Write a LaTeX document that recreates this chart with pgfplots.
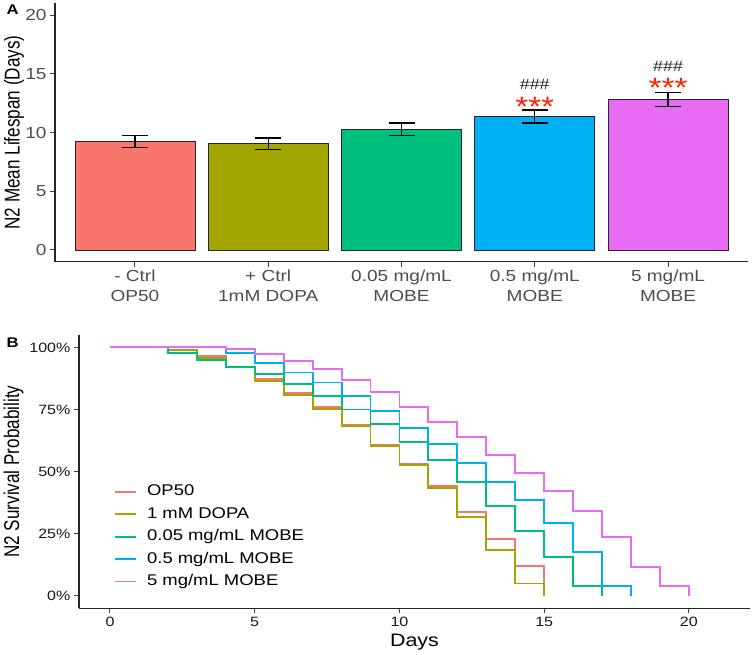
\documentclass[border=0pt]{standalone}
\usepackage{fontspec}
\setmainfont{Liberation Sans}[FakeStretch=1.19]
\newfontfamily\rotfont{Liberation Sans}[FakeStretch=0.8]
\usepackage{pgfplots}
\pgfplotsset{compat=1.18}
\definecolor{cA}{HTML}{F8766D}
\definecolor{cB}{HTML}{A3A500}
\definecolor{cC}{HTML}{00BF7D}
\definecolor{cD}{HTML}{00B0F6}
\definecolor{cE}{HTML}{E76BF3}
\definecolor{tickgray}{HTML}{4D4D4D}
\definecolor{starred}{HTML}{FF2200}
\pgfplotsset{mybar/.style={ybar, bar width=0.9, bar shift=0pt, draw=black!85, line width=0.8pt,
  /pgfplots/error bars/y dir=both, /pgfplots/error bars/y explicit,
  /pgfplots/error bars/error bar style={black, line width=1.3pt},
  /pgfplots/error bars/error mark options={rotate=90, black, line width=1.3pt, mark size=13pt}}}
\begin{document}
\begin{tikzpicture}
\path[use as bounding box] (0pt,0pt) rectangle (754pt,654pt);
\node[anchor=base west, font=\fontsize{14}{16}\selectfont\bfseries] at (3pt,639pt) {A};
\node[anchor=base west, font=\fontsize{14}{16}\selectfont\bfseries] at (3pt,306.7pt) {B};
% ---------------- Panel A ----------------
\begin{axis}[
  at={(55pt,392.3pt)}, anchor=south west, scale only axis,
  width=693pt, height=258.4pt,
  xmin=0.4, xmax=5.6, ymin=-1, ymax=21,
  axis x line=bottom, axis y line=left,
  axis line style={-, black!85, line width=1.1pt},
  tick align=outside, major tick length=5pt,
  tick style={black!75, line width=1pt},
  xtick={1,2,3,4,5},
  xticklabels={{- Ctrl\\OP50},{+ Ctrl\\1mM DOPA},{0.05 mg/mL\\MOBE},{0.5 mg/mL\\MOBE},{5 mg/mL\\MOBE}},
  xticklabel style={align=center, text=tickgray, font=\fontsize{16}{19.3}\selectfont},
  ytick={0,5,10,15,20},
  yticklabel style={text=tickgray, font=\fontsize{16}{19}\selectfont},
  /pgf/number format/assume math mode=true,
  ylabel={\rotfont N2 Mean Lifespan (Days)},
  ylabel style={at={(axis description cs:-0.0592,0.5)}, anchor=center, font=\fontsize{21.4}{24}\selectfont},
  clip=false,
]
\addplot[mybar, fill=cA] coordinates {(1,9.25) +- (0,0.50)};
\addplot[mybar, fill=cB] coordinates {(2,9.05) +- (0,0.48)};
\addplot[mybar, fill=cC] coordinates {(3,10.27) +- (0,0.54)};
\addplot[mybar, fill=cD] coordinates {(4,11.37) +- (0,0.55)};
\addplot[mybar, fill=cE] coordinates {(5,12.82) +- (0,0.61)};
\node[anchor=base, text=starred, font=\fontsize{28}{30}\selectfont] at (axis cs:4,11.40) {***};
\node[anchor=base, text=starred, font=\fontsize{28}{30}\selectfont] at (axis cs:5,12.98) {***};
\node[anchor=base, text=black!85, font=\fontsize{15}{17}\selectfont] at (axis cs:4,13.67) {\#\#\#};
\node[anchor=base, text=black!85, font=\fontsize{15}{17}\selectfont] at (axis cs:5,15.22) {\#\#\#};
\end{axis}
% ---------------- Panel B ----------------
\begin{axis}[
  at={(79pt,45.7pt)}, anchor=south west, scale only axis,
  width=671pt, height=273.3pt,
  xmin=-1.07, xmax=22.11, ymin=-0.05, ymax=1.05,
  axis x line=bottom, axis y line=left,
  axis line style={-, black!85, line width=1.1pt},
  tick align=outside, major tick length=5pt,
  tick style={black!75, line width=1pt},
  xtick={0,5,10,15,20},
  ytick={0,0.25,0.5,0.75,1},
  yticklabels={0\%,25\%,50\%,75\%,100\%},
  ticklabel style={text=black!90, font=\fontsize{13.5}{16}\selectfont},
  /pgf/number format/assume math mode=true,
  ylabel={\rotfont N2 Survival Probability},
  ylabel style={at={(axis description cs:-0.0976,0.5)}, anchor=center, font=\fontsize{21.4}{24}\selectfont},
  xlabel={Days},
  xlabel style={at={(axis description cs:0.5,-0.1405)}, anchor=base, font=\fontsize{18}{20}\selectfont},
  legend cell align=left,
  legend image code/.code={\draw[#1] (0pt,0pt) -- (21pt,0pt);},
  legend style={at={(axis description cs:0.0522,0.454)}, anchor=north west, draw=none, fill=none, inner sep=0pt,
    font=\fontsize{15.5}{18}\selectfont, row sep=7.4pt, column sep=10pt,
    nodes={inner sep=0pt, text height=11.5pt, text depth=3.5pt}},
  clip=false,
]
\addplot[const plot, cA, line width=1.9pt, mark=none] coordinates {
(0,1) (2,0.99) (3,0.966) (4,0.92) (5,0.872) (6,0.818) (7,0.760) (8,0.686) (9,0.607) (10,0.529) (11,0.444) (12,0.336) (13,0.230) (14,0.121) (15,0)};
\addlegendentry{OP50}
\addplot[const plot, cB, line width=1.9pt, mark=none] coordinates {
(0,1) (2,0.99) (3,0.958) (4,0.92) (5,0.865) (6,0.809) (7,0.751) (8,0.682) (9,0.605) (10,0.525) (11,0.433) (12,0.318) (13,0.184) (14,0.050) (15,0)};
\addlegendentry{1 mM DOPA}
\addplot[const plot, cC, line width=1.9pt, mark=none] coordinates {
(0,1) (2,0.979) (3,0.951) (4,0.920) (5,0.894) (6,0.852) (7,0.805) (8,0.750) (9,0.690) (10,0.619) (11,0.546) (12,0.457) (13,0.361) (14,0.262) (15,0.157) (16,0.041) (17,0)};
\addlegendentry{0.05 mg/mL MOBE}
\addplot[const plot, cD, line width=1.9pt, mark=none] coordinates {
(0,1) (4,0.977) (5,0.939) (6,0.899) (7,0.859) (8,0.805) (9,0.744) (10,0.677) (11,0.610) (12,0.536) (13,0.460) (14,0.385) (15,0.292) (16,0.176) (17,0.040) (18,0)};
\addlegendentry{0.5 mg/mL MOBE}
\addplot[const plot, cE, line width=1.9pt, mark=none] coordinates {
(0,1) (4,0.992) (5,0.973) (6,0.946) (7,0.912) (8,0.868) (9,0.821) (10,0.761) (11,0.700) (12,0.639) (13,0.567) (14,0.495) (15,0.421) (16,0.343) (17,0.238) (18,0.116) (19,0.038) (20,0)};
\addlegendentry{5 mg/mL MOBE}
\end{axis}
\end{tikzpicture}
\end{document}
